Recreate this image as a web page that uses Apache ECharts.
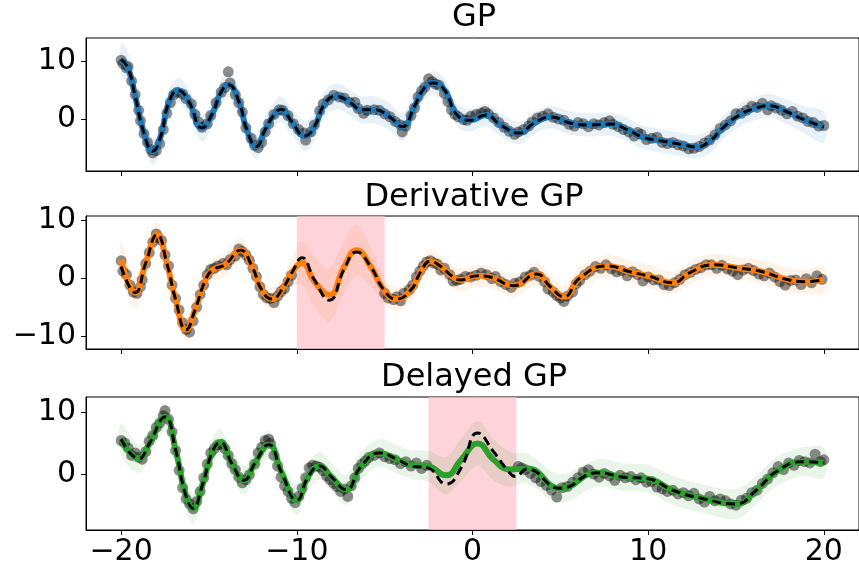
<!DOCTYPE html>
<html>
<head>
<meta charset="utf-8">
<script src="https://cdn.jsdelivr.net/npm/echarts@6/dist/echarts.min.js"></script>
<style>
  html, body { margin: 0; padding: 0; background: #fff; }
  #chart { width: 859px; height: 571px; }
</style>
</head>
<body>
<div id="chart"></div>
<script>
// x ticks shared by the three panels
var xTicks = [-20, -10, 0, 10, 20];

// --- GP panel ---
var gpX = [-20, -19.6, -19.2, -18.7, -18.2, -17.75, -17.3, -16.75, -16.15, -15.4,
  -14.8, -14.35, -13.9, -13.3, -12.85, -12.3, -11.8, -11.3, -10.9, -10.3,
  -9.55, -9.0, -8.4, -7.75, -6.9, -6.35, -5.6, -4.75, -4.0, -3.3,
  -2.75, -2.2, -1.6, -0.85, -0.1, 0.75, 1.6, 2.65, 3.5, 4.45,
  5.6, 6.7, 7.85, 8.8, 9.7, 10.85, 12.0, 12.75, 13.5, 14.25,
  15.2, 16.15, 16.9, 17.85, 18.8, 20];
var gpMean = [10.2, 8.7, 3.9, -2.4, -5.5, -3.0, 2.7, 4.9, 3.0, -1.5,
  1.0, 4.4, 5.9, 3.0, -1.8, -4.7, -1.8, 0.7, 1.7, -0.4,
  -2.9, -1.3, 2.7, 3.9, 2.7, 1.6, 1.6, 0.45, -1.3, 2.2,
  5.3, 6.2, 5.0, 0.6, -0.2, 0.7, -1.0, -2.4, -0.7, 0.35,
  -0.7, -1.0, -0.85, -1.8, -3.1, -3.8, -4.4, -4.8, -3.8, -1.5,
  0.7, 1.9, 2.3, 1.3, 0, -1.4];
var gpSd = [2.9, 2.6, 2.4, 2.3, 2.3, 2.2, 2.2, 2.2, 2.2, 2.3,
  2.2, 2.2, 2.2, 2.2, 2.2, 2.2, 2.2, 2.2, 2.2, 2.3,
  2.5, 2.4, 2.2, 2.2, 2.2, 2.3, 2.3, 2.3, 2.4, 2.2,
  2.0, 2.0, 2.0, 2.0, 1.9, 1.9, 1.9, 1.9, 1.9, 1.9,
  2.0, 2.0, 2.0, 2.0, 2.0, 2.0, 2.0, 2.0, 2.0, 2.0,
  2.0, 2.0, 2.0, 2.1, 2.3, 2.6];
var gpTrue = gpMean;
var gpObs = [[-20.0, 10.1], [-19.9, 9.5], [-19.7, 8.8], [-19.6, 9.0], [-19.4, 6.5], [-19.2, 4.2], [-19.0, 1.5], [-18.9, -0.3],
  [-18.7, -2.5], [-18.5, -4.0], [-18.3, -5.2], [-18.2, -5.8], [-18.0, -5.4], [-17.8, -4.2], [-17.6, -1.8], [-17.4, 1.0],
  [-17.2, 2.8], [-17.0, 4.2], [-16.8, 4.6], [-16.5, 4.3], [-16.3, 3.5], [-16.0, 2.6], [-15.8, 0.8], [-15.6, -0.5],
  [-15.4, -1.4], [-15.1, -0.8], [-14.9, 0.6], [-14.6, 2.8], [-14.3, 4.6], [-14.1, 5.4], [-13.9, 8.1], [-13.8, 6.2],
  [-13.5, 4.2], [-13.3, 2.8], [-13.1, 1.2], [-12.9, -1.5], [-12.6, -3.3], [-12.4, -4.5], [-12.2, -4.9], [-12.0, -4.0],
  [-11.8, -2.2], [-11.6, -0.8], [-11.3, 0.8], [-11.0, 1.6], [-10.8, 1.5], [-10.5, 0.6], [-10.2, -0.8], [-9.9, -1.8],
  [-9.6, -2.4], [-9.5, -3.6], [-9.2, -2.2], [-9.0, -1.0], [-8.7, 1.4], [-8.5, 2.6], [-8.2, 3.3], [-7.9, 4.1],
  [-7.6, 3.8], [-7.3, 3.6], [-7.0, 2.9], [-6.7, 2.9], [-6.5, 1.8], [-6.2, 1.0], [-6.0, 1.5], [-5.6, 1.6],
  [-5.3, 1.5], [-5.0, 0.9], [-4.7, 0.4], [-4.4, -0.4], [-4.1, -1.0], [-4.0, -2.2], [-3.8, -1.2], [-3.5, 0.6],
  [-3.3, 1.9], [-3.1, 3.8], [-2.9, 4.8], [-2.7, 5.5], [-2.5, 6.9], [-2.3, 6.4], [-2.1, 6.0], [-1.9, 5.8],
  [-1.6, 4.4], [-1.4, 3.0], [-1.2, 1.6], [-1.0, 0.8], [-0.8, 0.4], [-0.5, -0.1], [-0.3, -0.2], [-0.1, 0.5],
  [0.2, 0.8], [0.5, 1.0], [0.7, 1.3], [0.9, 0.9], [1.2, 0.2], [1.5, -0.6], [1.8, -1.4], [2.1, -2.1],
  [2.4, -2.6], [2.6, -2.2], [2.9, -1.8], [3.2, -1.2], [3.4, -0.5], [3.7, 0.2], [4.0, 0.5], [4.3, 0.9],
  [4.6, 0.3], [4.9, 0.0], [5.2, -0.2], [5.5, -0.9], [5.8, -1.2], [6.0, -0.6], [6.3, -0.8], [6.6, -1.3],
  [6.9, -0.8], [7.2, -1.0], [7.5, -0.6], [7.8, -0.3], [8.0, -0.9], [8.3, -1.3], [8.6, -1.8], [8.9, -2.2],
  [9.2, -2.9], [9.4, -2.3], [9.6, -2.6], [9.9, -3.5], [10.2, -3.3], [10.5, -3.1], [10.8, -4.0], [11.1, -4.2],
  [11.4, -4.0], [11.7, -4.4], [12.0, -4.6], [12.3, -5.1], [12.6, -5.0], [12.9, -4.7], [13.2, -4.1], [13.5, -3.6],
  [13.8, -2.7], [14.1, -1.6], [14.4, -1.0], [14.7, -0.3], [15.0, 0.9], [15.3, 1.0], [15.6, 1.5], [15.9, 2.2],
  [16.2, 2.0], [16.5, 2.7], [16.8, 1.6], [17.0, 2.3], [17.3, 1.9], [17.6, 1.5], [17.9, 0.9], [18.2, 1.3],
  [18.5, 0.5], [18.8, 0.2], [19.1, -0.4], [19.4, -0.6], [19.7, -1.2], [20.0, -1.1]];

// --- Derivative GP panel ---
var dgX = [-20, -19.2, -18.6, -17.95, -17.4, -16.9, -16.3, -15.8, -15.2, -14.8,
  -14.1, -13.2, -12.55, -12.0, -11.4, -10.85, -10.25, -9.7, -9.0, -8.15,
  -7.3, -6.6, -5.8, -5.05, -4.35, -3.5, -2.95, -2.4, -1.8, -1.15,
  -0.7, 0.3, 1.0, 2.35, 3.65, 4.4, 5.2, 6.1, 7.65, 8.95,
  10.1, 11.4, 12.35, 13.7, 15.2, 16.5, 17.85, 18.95, 20];
var dgMean = [3.2, -2.5, 2.6, 7.5, 2.6, -3.7, -8.9, -5.5, -0.3, 1.4,
  2.3, 4.8, 2.0, -2.0, -3.6, -2.0, 1.1, 2.6, -0.6, -2.9,
  2.0, 4.8, 2.0, -2.0, -3.6, -2.0, 1.1, 2.9, 2.0, 0.3,
  -0.3, 0.4, 0.2, -1.3, 0.7, -1.4, -3.2, 0, 2.1, 1.1,
  0.3, -0.8, 0.9, 2.3, 1.7, 1.1, -0.2, -0.6, -0.3];
var dgTrue = [2.0, -2.5, 2.6, 7.5, 2.6, -3.7, -8.9, -5.5, -0.3, 1.4,
  2.3, 4.8, 2.0, -2.0, -3.6, -2.0, 1.1, 3.5, -0.3, -3.8,
  1.6, 4.5, 2.0, -2.0, -3.6, -2.0, 1.1, 2.9, 2.0, 0.3,
  -0.3, 0.4, 0.2, -1.3, 0.7, -1.4, -3.2, 0, 2.1, 1.1,
  0.3, -0.8, 0.9, 2.3, 1.7, 1.1, -0.2, -0.6, -0.3];
var dgSd = [3.0, 2.6, 2.2, 2.2, 2.0, 2.0, 2.0, 2.0, 2.0, 2.0,
  2.0, 2.0, 2.0, 2.0, 2.0, 2.0, 2.6, 3.7, 4.3, 4.6,
  4.6, 4.4, 3.4, 2.5, 2.0, 1.9, 1.9, 1.9, 1.9, 1.9,
  1.9, 1.9, 1.9, 1.9, 1.9, 1.9, 1.9, 1.9, 1.9, 1.9,
  1.9, 1.9, 1.9, 1.9, 1.9, 2.0, 2.0, 2.1, 2.2];
var dgRegion = [-10, -5];
var dgObs = [[-20.0, 3.0], [-19.9, 1.2], [-19.7, 0.6], [-19.5, -1.2], [-19.3, -2.4], [-19.1, -2.6], [-18.9, -1.5], [-18.8, -0.3],
  [-18.6, 2.5], [-18.4, 4.4], [-18.2, 6.2], [-18.0, 7.6], [-17.9, 7.0], [-17.7, 6.5], [-17.5, 4.0], [-17.3, 2.1],
  [-17.1, -1.2], [-16.9, -3.5], [-16.7, -5.5], [-16.5, -7.7], [-16.3, -8.8], [-16.1, -9.3], [-15.9, -7.4], [-15.7, -5.0],
  [-15.5, -2.8], [-15.3, -1.2], [-15.1, 0.6], [-14.9, 1.5], [-14.7, 1.7], [-14.5, 2.1], [-14.2, 2.5], [-14.0, 2.3],
  [-13.8, 3.2], [-13.5, 3.8], [-13.3, 5.0], [-13.1, 4.6], [-12.9, 4.0], [-12.7, 3.1], [-12.5, 1.7], [-12.3, 0.3],
  [-12.1, -1.5], [-11.9, -2.8], [-11.7, -3.4], [-11.5, -3.5], [-11.3, -4.2], [-11.1, -3.1], [-10.9, -2.3], [-10.7, -1.8],
  [-10.5, -0.6], [-10.3, 0.5],
  [-5.0, -2.6], [-4.8, -3.4], [-4.5, -3.7], [-4.3, -3.2], [-4.1, -3.9], [-3.9, -2.6], [-3.6, -2.0], [-3.4, -1.2],
  [-3.2, 0.2], [-3.0, 1.2], [-2.8, 2.1], [-2.6, 2.8], [-2.4, 3.0], [-2.2, 2.6], [-2.0, 2.4], [-1.8, 1.4],
  [-1.6, 1.7], [-1.3, 0.6], [-1.1, -0.5], [-0.9, -0.4], [-0.7, -0.2], [-0.4, 0.3], [-0.1, 0.2], [0.2, 0.5],
  [0.5, 0.9], [0.8, 0.6], [1.1, -0.1], [1.3, 0.3], [1.6, -0.6], [1.9, -1.1], [2.2, -1.6], [2.4, -0.9],
  [2.7, -0.6], [3.0, 0.2], [3.3, 0.5], [3.5, 1.0], [3.8, 0.3], [4.1, -0.6], [4.3, -1.9], [4.6, -2.4],
  [4.8, -3.0], [5.0, -3.4], [5.2, -4.0], [5.4, -3.1], [5.7, -2.4], [5.9, -1.0], [6.1, -0.4], [6.4, 0.6],
  [6.7, 1.2], [7.0, 2.0], [7.3, 1.7], [7.6, 2.3], [7.9, 1.6], [8.2, 1.1], [8.5, 1.3], [8.8, 0.4],
  [9.1, 1.1], [9.4, 0.6], [9.7, -0.5], [10.0, 0.2], [10.3, -0.3], [10.6, -0.3], [10.9, -1.1], [11.2, -1.3],
  [11.5, -0.8], [11.8, -0.2], [12.1, 0.6], [12.4, 1.0], [12.7, 1.5], [13.0, 1.8], [13.3, 2.3], [13.6, 2.3],
  [13.9, 1.7], [14.2, 2.2], [14.5, 1.6], [14.8, 1.2], [15.1, 0.6], [15.4, 1.4], [15.7, 1.7], [16.0, 1.3],
  [16.3, 0.7], [16.6, 0.4], [16.9, 0.9], [17.2, 0.2], [17.5, -0.6], [17.8, -1.2], [18.1, -0.4], [18.4, -0.3],
  [18.7, -1.1], [19.0, -0.1], [19.3, -0.8], [19.6, 0.4], [19.9, -0.2]];

// --- Delayed GP panel ---
var dlX = [-20, -19.0, -18.4, -17.5, -16.9, -16.35, -15.9, -15.4, -14.8, -14.35,
  -13.7, -13.0, -12.4, -11.6, -10.85, -10.0, -9.35, -8.7, -8.05, -7.2,
  -6.35, -5.3, -4.25, -3.5, -2.55, -1.5, -0.65, 0.3, 1.2, 2.15,
  3.1, 5.0, 7.1, 8.6, 9.9, 11.4, 12.9, 15.0, 16.15, 17.3,
  18.8, 20];
var dlMean = [5.6, 2.5, 4.9, 9.2, 3.9, -3.1, -5.5, -2.0, 3.6, 5.1,
  1.7, -1.0, 1.7, 4.7, 0.1, -4.2, -0.4, 1.3, -0.4, -2.5,
  1.2, 3.4, 2.3, 1.5, 1.3, -0.2, 2.3, 4.9, 2.3, 0.75,
  0.9, -2.3, 0.2, -0.5, -0.7, -2.6, -3.8, -4.8, -2.6, 0.4,
  2.0, 1.8];
var dlSd = [2.5, 2.3, 2.2, 2.2, 2.3, 2.4, 2.5, 2.4, 2.2, 2.2,
  2.2, 2.3, 2.2, 2.2, 2.3, 2.4, 2.3, 2.2, 2.3, 2.4,
  2.3, 2.2, 2.3, 2.3, 2.5, 3.0, 3.4, 3.6, 3.3, 2.8,
  2.4, 2.3, 2.2, 2.2, 2.2, 2.3, 2.3, 2.4, 2.3, 2.3,
  2.3, 2.4];
var dlTrueX = [-20, -19.0, -18.4, -17.5, -16.9, -16.35, -15.9, -15.4, -14.8, -14.35,
  -13.7, -13.0, -12.4, -11.6, -10.85, -10.0, -9.35, -8.7, -8.05, -7.2,
  -6.35, -5.3, -4.25, -3.5, -2.55, -1.5, -0.65, 0.3, 1.2, 2.0,
  2.45, 3.1, 5.0, 7.1, 8.6, 9.9, 11.4, 12.9, 15.0, 16.15,
  17.3, 18.8, 20];
var dlTrue = [5.6, 2.5, 4.9, 9.2, 3.9, -3.1, -5.5, -2.0, 3.6, 5.1,
  1.7, -1.0, 1.7, 4.7, 0.1, -4.2, -0.4, 1.3, -0.4, -2.5,
  1.2, 3.4, 2.3, 1.3, 1.0, -1.6, 1.0, 6.6, 3.6, 0.6,
  -0.4, 0.8, -2.3, 0.2, -0.5, -0.7, -2.6, -3.8, -4.8, -2.6,
  0.4, 2.0, 1.8];
var dlRegion = [-2.5, 2.5];
var dlObs = [[-20.0, 5.4], [-19.8, 5.0], [-19.6, 4.2], [-19.4, 3.0], [-19.2, 3.4], [-19.0, 2.7], [-18.8, 2.4], [-18.6, 3.6],
  [-18.4, 5.3], [-18.2, 6.2], [-18.0, 7.5], [-17.8, 8.2], [-17.6, 9.4], [-17.5, 10.2], [-17.3, 8.8], [-17.1, 6.8],
  [-16.9, 3.8], [-16.7, 0.6], [-16.5, -2.2], [-16.3, -4.0], [-16.1, -4.8], [-15.9, -5.6], [-15.7, -4.4], [-15.5, -2.8],
  [-15.3, -0.6], [-15.1, 1.6], [-14.9, 3.4], [-14.7, 4.1], [-14.5, 4.7], [-14.3, 4.8], [-14.1, 4.1], [-13.9, 3.0],
  [-13.7, 1.7], [-13.5, 0.7], [-13.3, -0.5], [-13.1, -1.4], [-12.9, -0.9], [-12.7, -0.1], [-12.4, 1.6], [-12.2, 3.4],
  [-12.0, 4.3], [-11.8, 5.4], [-11.6, 5.6], [-11.5, 4.9], [-11.3, 3.0], [-11.1, 1.3], [-10.9, -0.5], [-10.7, -1.9],
  [-10.5, -2.8], [-10.3, -3.9], [-10.1, -4.6], [-9.9, -3.6], [-9.7, -2.3], [-9.5, -0.6], [-9.3, 1.0], [-9.1, 1.4],
  [-8.9, 1.3], [-8.7, 1.1], [-8.5, 0.5], [-8.3, -0.3], [-8.1, -0.9], [-7.9, -1.5], [-7.7, -2.0], [-7.5, -2.8],
  [-7.3, -2.4], [-7.1, -3.6], [-6.9, -1.9], [-6.7, -0.6], [-6.5, 0.9], [-6.3, 1.6], [-6.1, 2.1], [-5.9, 2.7],
  [-5.6, 3.0], [-5.3, 3.4], [-5.0, 2.8], [-4.7, 2.5], [-4.4, 2.3], [-4.1, 1.7], [-3.8, 2.0], [-3.5, 1.3],
  [-3.2, 1.8], [-2.9, 0.9], [-2.6, 1.4],
  [2.6, 1.2], [2.8, 1.0], [3.0, 0.7], [3.3, 0.1], [3.6, -0.6], [3.9, -1.2], [4.2, -1.8], [4.5, -2.6],
  [4.8, -3.7], [5.1, -2.2], [5.4, -2.0], [5.7, -1.3], [6.0, -0.6], [6.3, 0.3], [6.6, 0.7], [6.9, 0.0],
  [7.2, -0.5], [7.5, 0.1], [7.8, -0.3], [8.1, -1.0], [8.4, -0.2], [8.7, -0.6], [9.0, -0.4], [9.3, -0.9],
  [9.6, -0.6], [9.9, -1.3], [10.2, -1.2], [10.5, -2.1], [10.8, -2.4], [11.1, -2.8], [11.4, -2.6], [11.7, -3.2],
  [12.0, -3.0], [12.3, -3.5], [12.6, -3.1], [12.9, -4.0], [13.2, -4.5], [13.5, -3.6], [13.8, -4.3], [14.1, -4.0],
  [14.4, -4.3], [14.7, -4.8], [15.0, -5.0], [15.3, -4.2], [15.6, -3.9], [15.9, -3.0], [16.2, -2.6], [16.5, -1.5],
  [16.8, -0.8], [17.1, 0.2], [17.4, 1.2], [17.7, 0.7], [18.0, 1.8], [18.3, 1.4], [18.6, 2.2], [18.9, 2.0],
  [19.2, 1.8], [19.5, 3.2], [19.8, 2.0], [20.0, 2.3]];

var panels = [
  { title: 'GP', x: gpX, mean: gpMean, sd: gpSd, tx: gpX, truth: gpTrue, obs: gpObs, region: null,
    color: '#1f77b4', band: 'rgba(31,119,180,0.1)', top: 38, ymin: -8.9, ymax: 13.9, yTicks: [0, 10], titleY: 18 },
  { title: 'Derivative GP', x: dgX, mean: dgMean, sd: dgSd, tx: dgX, truth: dgTrue, obs: dgObs, region: dgRegion,
    color: '#ff7f0e', band: 'rgba(255,127,14,0.1)', top: 216, ymin: -12.2, ymax: 10.7, yTicks: [-10, 0, 10], titleY: 198 },
  { title: 'Delayed GP', x: dlX, mean: dlMean, sd: dlSd, tx: dlTrueX, truth: dlTrue, obs: dlObs, region: dlRegion,
    color: '#2ca02c', band: 'rgba(44,160,44,0.1)', top: 397, ymin: -9.0, ymax: 12.4, yTicks: [0, 10], titleY: 378 }
];

var FONT = 'DejaVu Sans';
function minus(v) { return String(v).replace('-', '\u2212'); }
function pairs(xs, ys) { return xs.map(function (x, i) { return [x, ys[i]]; }); }

var grids = [], xAxes = [], yAxes = [], series = [], graphics = [];
panels.forEach(function (p, i) {
  grids.push({ left: 86, top: p.top, width: 777, height: 133, show: true, borderColor: '#000', borderWidth: 1 });
  xAxes.push({
    type: 'value', gridIndex: i, min: -22, max: 22,
    splitLine: { show: false },
    axisLine: { show: true, onZero: false, lineStyle: { color: '#000', width: 1 } },
    axisTick: { show: true, length: 5, customValues: xTicks, lineStyle: { color: '#000' } },
    axisLabel: { show: i === 2, customValues: xTicks, margin: 7, color: '#000', fontSize: 30, fontFamily: FONT, formatter: minus }
  });
  yAxes.push({
    type: 'value', gridIndex: i, min: p.ymin, max: p.ymax,
    splitLine: { show: false },
    axisLine: { show: true, onZero: false, lineStyle: { color: '#000', width: 1 } },
    axisTick: { show: true, length: 5, customValues: p.yTicks, lineStyle: { color: '#000' } },
    axisLabel: { customValues: p.yTicks, margin: 10, color: '#000', fontSize: 30, fontFamily: FONT, formatter: minus }
  });
  graphics.push({ type: 'text', x: 474, y: p.titleY,
    style: { text: p.title, fill: '#000', font: '32px "DejaVu Sans"', textAlign: 'center', textVerticalAlign: 'middle' } });

  if (p.region) {
    series.push({
      type: 'custom', xAxisIndex: i, yAxisIndex: i, silent: true, z: 0,
      data: [p.region],
      renderItem: function (params, api) {
        var cs = params.coordSys;
        var a = api.coord([api.value(0), p.ymax]);
        var b = api.coord([api.value(1), p.ymin]);
        return { type: 'rect', shape: { x: a[0], y: cs.y, width: b[0] - a[0], height: cs.height },
          style: { fill: 'rgba(255,192,203,0.7)' } };
      }
    });
  }
  series.push({
    type: 'custom', xAxisIndex: i, yAxisIndex: i, silent: true, z: 1,
    data: [[0, 0]],
    renderItem: function (params, api) {
      var up = [], lo = [];
      for (var k = 0; k < p.x.length; k++) {
        up.push(api.coord([p.x[k], p.mean[k] + p.sd[k]]));
        lo.push(api.coord([p.x[k], p.mean[k] - p.sd[k]]));
      }
      return { type: 'polygon', shape: { points: up.concat(lo.reverse()), smooth: 0.35 },
        style: { fill: p.band } };
    }
  });
  series.push({
    type: 'scatter', xAxisIndex: i, yAxisIndex: i, z: 2, silent: true,
    data: p.obs, symbolSize: 11,
    itemStyle: { color: 'rgba(0,0,0,0.55)' }
  });
  series.push({
    type: 'line', xAxisIndex: i, yAxisIndex: i, z: 3, silent: true,
    data: pairs(p.x, p.mean), smooth: 0.5, showSymbol: false,
    lineStyle: { color: p.color, width: 6 }
  });
  series.push({
    type: 'line', xAxisIndex: i, yAxisIndex: i, z: 4, silent: true,
    data: pairs(p.tx, p.truth), smooth: 0.5, showSymbol: false,
    lineStyle: { color: '#000', width: 3, type: [9, 5] }
  });
});

var chart = echarts.init(document.getElementById('chart'), null, { renderer: 'canvas' });
chart.setOption({
  animation: false,
  backgroundColor: '#fff',
  grid: grids,
  xAxis: xAxes,
  yAxis: yAxes,
  series: series,
  graphic: graphics
});
</script>
</body>
</html>
